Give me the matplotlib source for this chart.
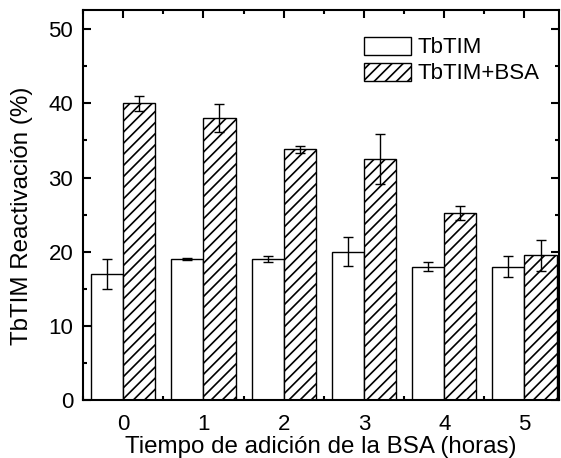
import numpy as np
import matplotlib.pyplot as plt
from matplotlib.ticker import MultipleLocator

plt.rcParams['font.family'] = ['Liberation Sans', 'DejaVu Sans']
plt.rcParams['hatch.linewidth'] = 1.2

# Reactivación de TbTIM según el tiempo de adición de la BSA
horas = np.array([0, 1, 2, 3, 4, 5])
tbtim = np.array([17.0, 19.0, 19.0, 20.0, 18.0, 18.0])
tbtim_err = np.array([2.0, 0.15, 0.45, 1.95, 0.6, 1.4])
tbtim_bsa = np.array([40.0, 38.0, 33.8, 32.5, 25.2, 19.5])
tbtim_bsa_err = np.array([1.0, 1.9, 0.5, 3.4, 0.95, 2.1])

ancho = 0.4

fig = plt.figure(figsize=(5.61, 4.58), dpi=100)
ax = fig.add_axes([83 / 561, 1 - 400 / 458, 476 / 561, 390 / 458])

ax.bar(horas - ancho / 2, tbtim, ancho, color='white', edgecolor='black',
       linewidth=1.0, label='TbTIM', zorder=2)
ax.bar(horas + ancho / 2, tbtim_bsa, ancho, color='white', edgecolor='black',
       linewidth=1.0, hatch='///', label='TbTIM+BSA', zorder=2)

ax.errorbar(horas - ancho / 2, tbtim, yerr=tbtim_err, fmt='none',
            ecolor='black', elinewidth=1.0, capsize=3.6, capthick=1.0, zorder=3)
ax.errorbar(horas + ancho / 2, tbtim_bsa, yerr=tbtim_bsa_err, fmt='none',
            ecolor='black', elinewidth=1.0, capsize=3.6, capthick=1.0, zorder=3)

ax.set_xlim(-0.5, 5.43)
ax.set_ylim(0, 52.6)
ax.xaxis.set_major_locator(MultipleLocator(1))
ax.xaxis.set_minor_locator(MultipleLocator(0.5))
ax.yaxis.set_major_locator(MultipleLocator(10))
ax.yaxis.set_minor_locator(MultipleLocator(5))
ax.tick_params(which='both', direction='in', top=True, right=True,
               labelsize=16, width=1.5)
ax.tick_params(axis='x', pad=10)
ax.tick_params(axis='y', pad=7)
ax.tick_params(which='major', length=6)
ax.tick_params(which='minor', length=3)
for s in ax.spines.values():
    s.set_linewidth(1.5)

ax.set_xlabel('Tiempo de adición de la BSA (horas)', fontsize=17.4, labelpad=1)
ax.set_ylabel('TbTIM Reactivación (%)', fontsize=17.4)
ax.yaxis.set_label_coords(-0.104, 0.472)

ax.legend(loc='upper left', bbox_to_anchor=(355 / 561, 1 - 28 / 458),
          bbox_transform=fig.transFigure, frameon=False, fontsize=16,
          handlelength=2.1, handleheight=0.85, handletextpad=0.3,
          labelspacing=0.2, borderaxespad=0)

fig.savefig('out.png', dpi=100)
